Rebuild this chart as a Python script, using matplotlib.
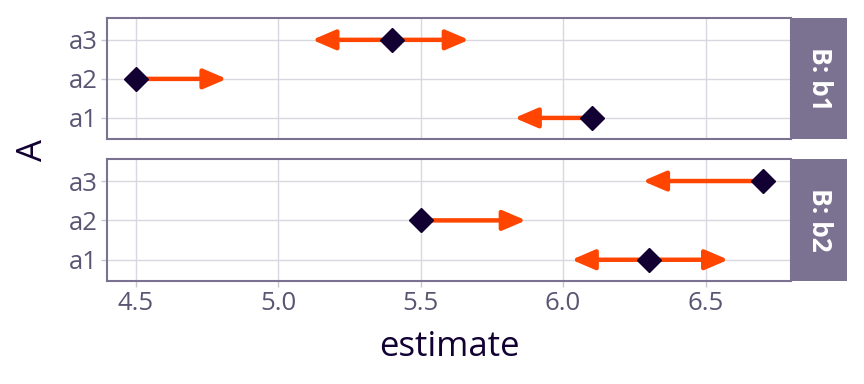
import matplotlib.pyplot as plt

plt.rcParams['font.family'] = ['Open Sans', 'Noto Sans', 'DejaVu Sans']

levels = ["a1", "a2", "a3"]
panels = ["B: b1", "B: b2"]
# estimate and arrow ends per panel (a1, a2, a3)
estimate = {"B: b1": [6.1, 4.5, 5.4], "B: b2": [6.3, 5.5, 6.7]}
lower = {"B: b1": [5.83, 4.5, 5.12], "B: b2": [6.03, 5.5, 6.28]}
upper = {"B: b1": [6.1, 4.82, 5.67], "B: b2": [6.58, 5.87, 6.7]}
xticks = [4.5, 5.0, 5.5, 6.0, 6.5]

frame_col = "#7a7290"
tick_col = "#5b5573"
dark = "#120033"
arrow_col = "#ff4500"

fig = plt.figure(figsize=(8.64, 3.84), dpi=100)
boxes = [(107, 18, 139), (107, 159, 281)]
W, H = 864, 384

for i, (name, (x0, top, bot)) in enumerate(zip(panels, boxes)):
    ax = fig.add_axes([x0 / W, 1 - bot / H, (791 - x0) / W, (bot - top) / H])
    ax.set_xlim(4.4, 6.8)
    ax.set_ylim(0.46, 3.56)
    ax.set_xticks(xticks)
    ax.set_yticks([1, 2, 3])
    ax.set_yticklabels(levels)
    ax.grid(True, color="#d9d8e0", linewidth=1.0)
    ax.set_axisbelow(True)
    for s in ax.spines.values():
        s.set_color(frame_col)
        s.set_linewidth(1.5)
    ax.tick_params(axis="y", colors="#c8c6d0", labelcolor=tick_col, labelsize=18.5, length=4, width=1, pad=3)
    if i == 0:
        ax.tick_params(axis="x", bottom=False, labelbottom=False)
    else:
        ax.set_xticklabels(["4.5", "5.0", "5.5", "6.0", "6.5"])
        ax.tick_params(axis="x", colors="#c8c6d0", labelcolor=tick_col, labelsize=18.5, length=4, width=1, pad=3)

    for y, (e, lo, hi) in enumerate(zip(estimate[name], lower[name], upper[name]), start=1):
        for end in (lo, hi):
            if abs(end - e) > 1e-9:
                ax.annotate("", xy=(end, y), xytext=(e, y),
                            arrowprops=dict(arrowstyle="-|>,head_length=1.4,head_width=0.6",
                                            mutation_scale=10, color=arrow_col, lw=3.2,
                                            shrinkA=0, shrinkB=0), zorder=3)
        ax.plot(e, y, marker="D", ms=12.5, color=dark, zorder=4, clip_on=False)

    # facet strip
    sax = fig.add_axes([791 / W, 1 - bot / H, 56 / W, (bot - top) / H])
    sax.set_facecolor(frame_col)
    sax.set_xticks([])
    sax.set_yticks([])
    for s in sax.spines.values():
        s.set_visible(False)
    sax.text(0.5, 0.5, name, rotation=-90, color="white", fontsize=19, fontweight="bold",
             ha="center", va="center", transform=sax.transAxes)

fig.text(449 / W, 1 - 347 / H, "estimate", ha="center", va="center", fontsize=25, color=dark)
fig.text(33 / W, 1 - 150 / H, "A", ha="center", va="center", rotation=90, fontsize=25, color=dark)

fig.savefig("out.png", dpi=100)
